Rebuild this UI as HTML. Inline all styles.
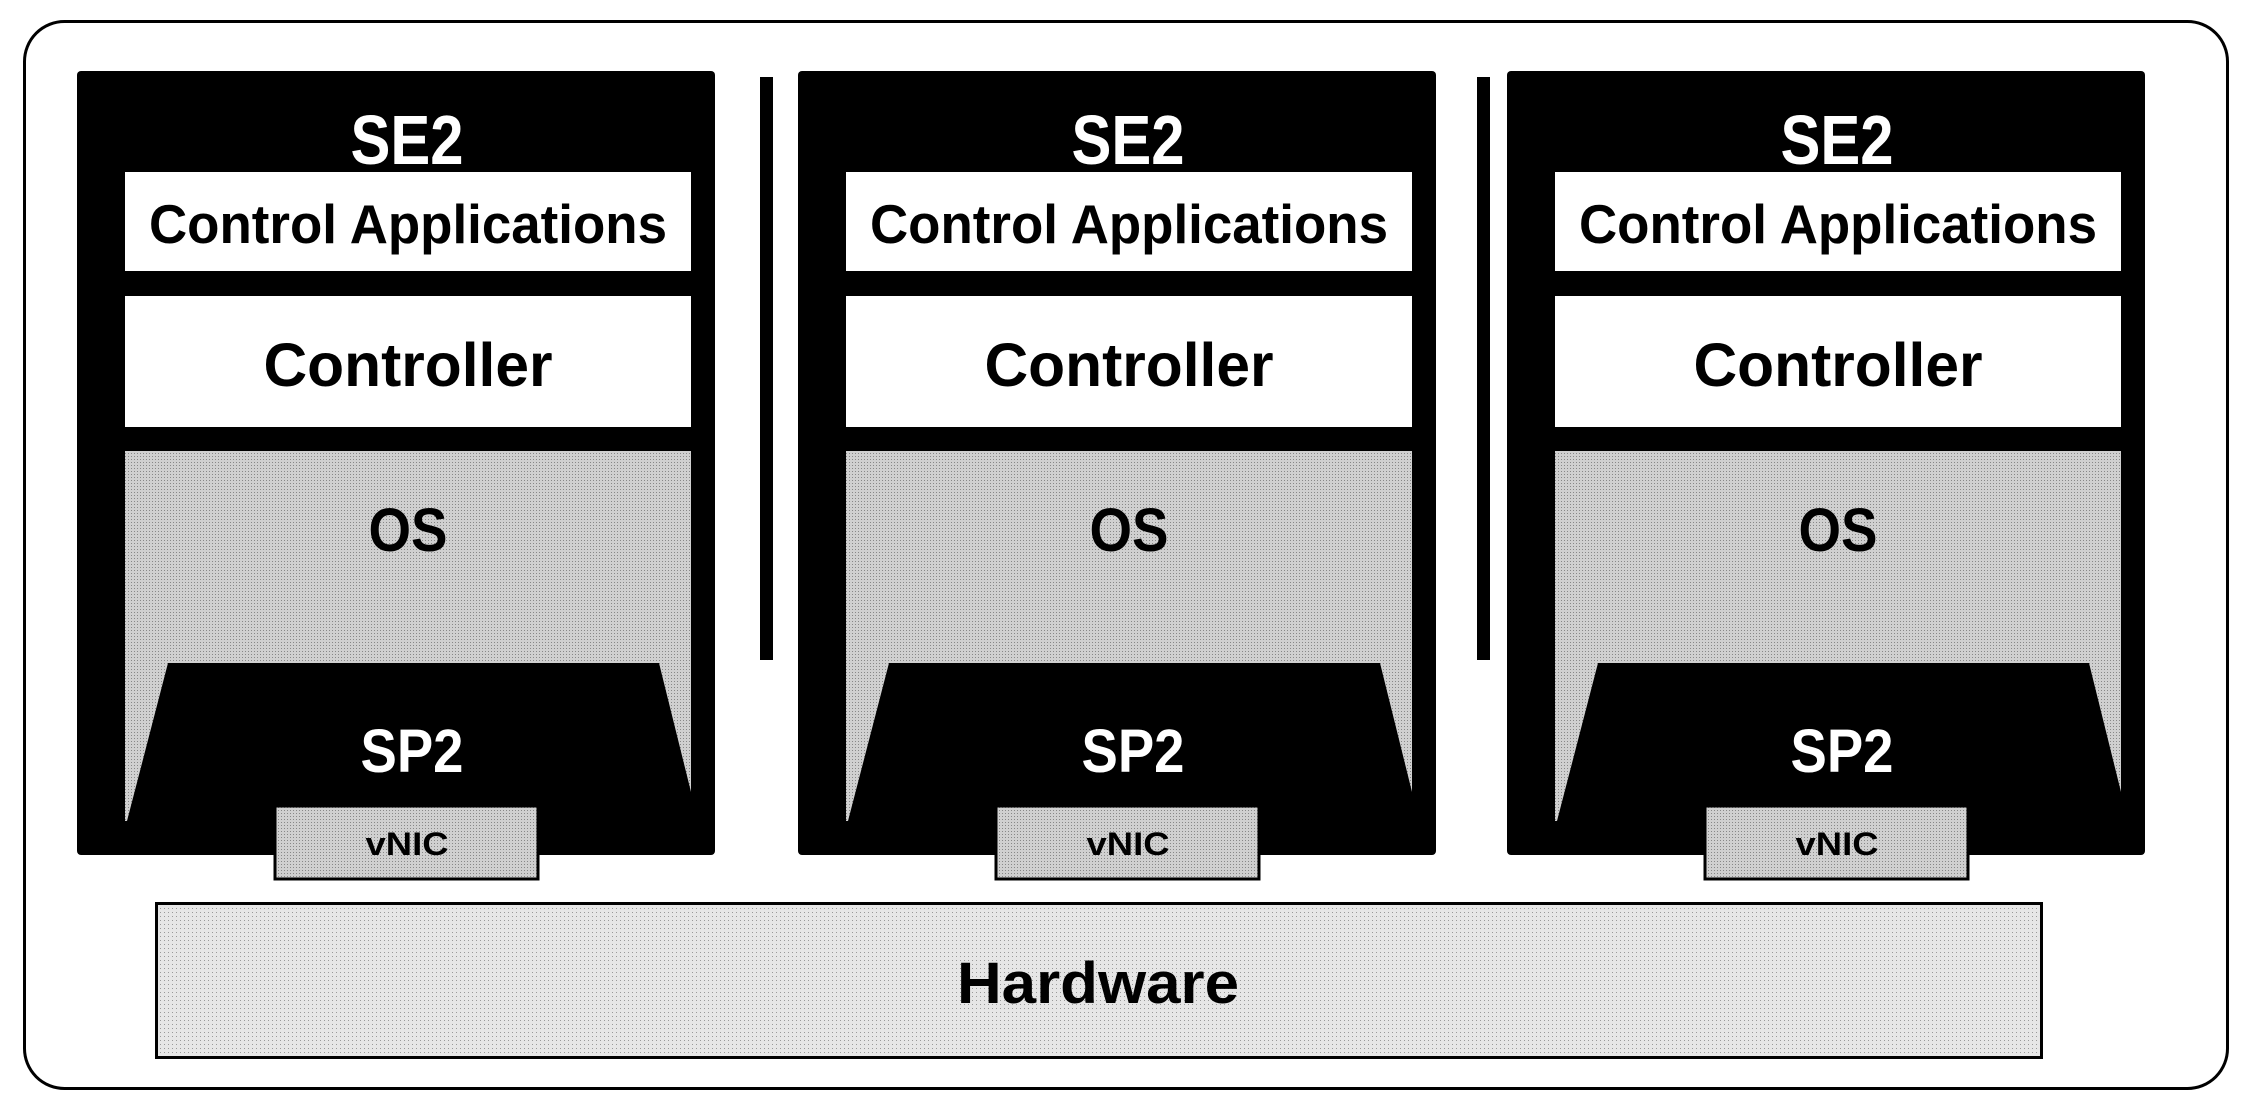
<!DOCTYPE html>
<html><head><meta charset="utf-8"><style>
html,body{margin:0;padding:0;background:#fff;}
svg{display:block;}
text{font-family:"Liberation Sans",sans-serif;font-weight:bold;text-anchor:middle;}
</style></head><body>
<svg width="2248" height="1110" viewBox="0 0 2248 1110" xmlns="http://www.w3.org/2000/svg">
<defs>
<pattern id="dots" width="3" height="3" patternUnits="userSpaceOnUse">
<rect width="3" height="3" fill="#d0d0d0"/><rect width="1" height="1" fill="#888"/>
</pattern>
<pattern id="hw" width="4" height="4" patternUnits="userSpaceOnUse">
<rect width="4" height="4" fill="#e6e6e6"/><rect width="1" height="1" fill="#999"/>
</pattern>
<g id="panel">
<rect x="0" y="71" width="638" height="784" rx="4" fill="#000"/>
<rect x="48" y="172" width="566" height="99" fill="#fff"/>
<rect x="48" y="296" width="566" height="131" fill="#fff"/>
<rect x="48" y="451" width="566" height="370" fill="url(#dots)"/>
<polygon points="91,663 582,663 615,796 615,855 48,855 48,821 50,821" fill="#000"/>
<rect x="198" y="806" width="263" height="73" fill="url(#dots)" stroke="#000" stroke-width="3"/>
<text x="330" y="164" font-size="70" fill="#fff" textLength="113" lengthAdjust="spacingAndGlyphs">SE2</text>
<text x="331" y="243" font-size="55" fill="#000" textLength="518" lengthAdjust="spacingAndGlyphs">Control Applications</text>
<text x="331" y="386" font-size="61" fill="#000" textLength="289" lengthAdjust="spacingAndGlyphs">Controller</text>
<text x="331" y="551" font-size="61" fill="#000" textLength="79" lengthAdjust="spacingAndGlyphs">OS</text>
<text x="335" y="772" font-size="61" fill="#fff" textLength="103" lengthAdjust="spacingAndGlyphs">SP2</text>
<text x="330" y="855" font-size="32" fill="#000" textLength="83" lengthAdjust="spacingAndGlyphs">vNIC</text>
</g>
</defs>
<rect x="24.5" y="21.5" width="2203" height="1067" rx="40" fill="#fff" stroke="#000" stroke-width="3"/>
<use href="#panel" x="77"/>
<use href="#panel" x="798"/>
<use href="#panel" x="1507"/>
<rect x="760" y="77" width="13" height="583" fill="#000"/>
<rect x="1477" y="77" width="13" height="583" fill="#000"/>
<rect x="156.5" y="903.5" width="1885" height="154" fill="url(#hw)" stroke="#000" stroke-width="3"/>
<text x="1098" y="1003" font-size="58" fill="#000" textLength="282" lengthAdjust="spacingAndGlyphs">Hardware</text>
</svg>
</body></html>
